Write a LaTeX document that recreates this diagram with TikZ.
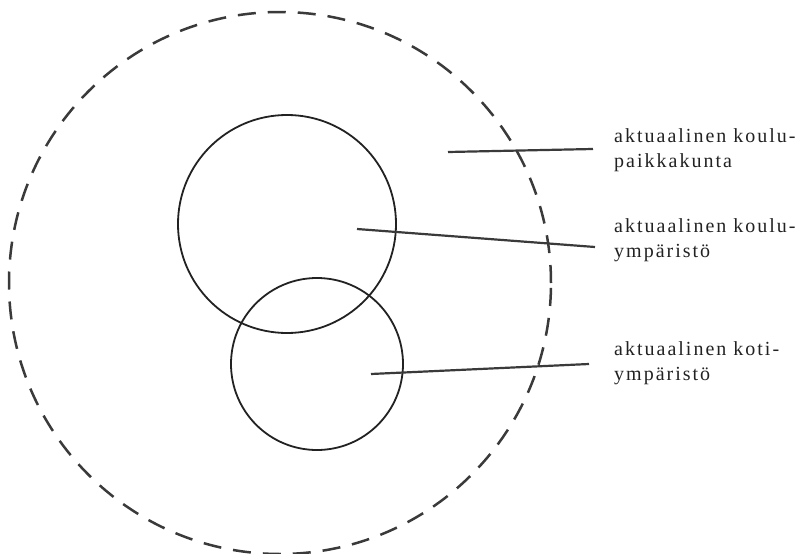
\documentclass[tikz,border=0pt]{standalone}
\usepackage{fontspec}
\newfontfamily\labfont[LetterSpace=10]{Liberation Serif}
\definecolor{ink}{HTML}{222222}
\definecolor{ink2}{HTML}{3A3A3A}
\tikzset{
  ring/.style={circle, draw=ink, line width=1.8pt, inner sep=0pt, outer sep=0pt},
  outer/.style={circle, draw=ink2, line width=2.5pt, inner sep=0pt, outer sep=0pt, dash pattern=on 18pt off 12pt},
  leader/.style={draw=ink2, line width=2.2pt},
  lab/.style={anchor=north west, inner sep=0pt, align=left, text=ink, font=\labfont\fontsize{20}{25}\selectfont}
}
\begin{document}
\begin{tikzpicture}[x=1pt,y=-1pt]
\useasboundingbox (0,0) rectangle (804,554);
\node[outer, minimum size=542pt] (town) at (280,283) {};
\node[ring, minimum size=218pt] (school) at (287,224) {};
\node[ring, minimum size=172pt] (home) at (317,364) {};
\node[lab] (t1) at (614,128.5) {aktuaalinen koulu-\\paikkakunta};
\node[lab] (t2) at (614,218.5) {aktuaalinen koulu-\\ympäristö};
\node[lab] (t3) at (614,341.5) {aktuaalinen koti-\\ympäristö};
\coordinate (a1) at (448,152);
\coordinate (b1) at (593,149);
\coordinate (a2) at (357,229);
\coordinate (b2) at (595,247);
\coordinate (a3) at (371,374);
\coordinate (b3) at (589,364);
\draw[leader] (a1) -- (b1);
\draw[leader] (a2) -- (b2);
\draw[leader] (a3) -- (b3);
\end{tikzpicture}
\end{document}
